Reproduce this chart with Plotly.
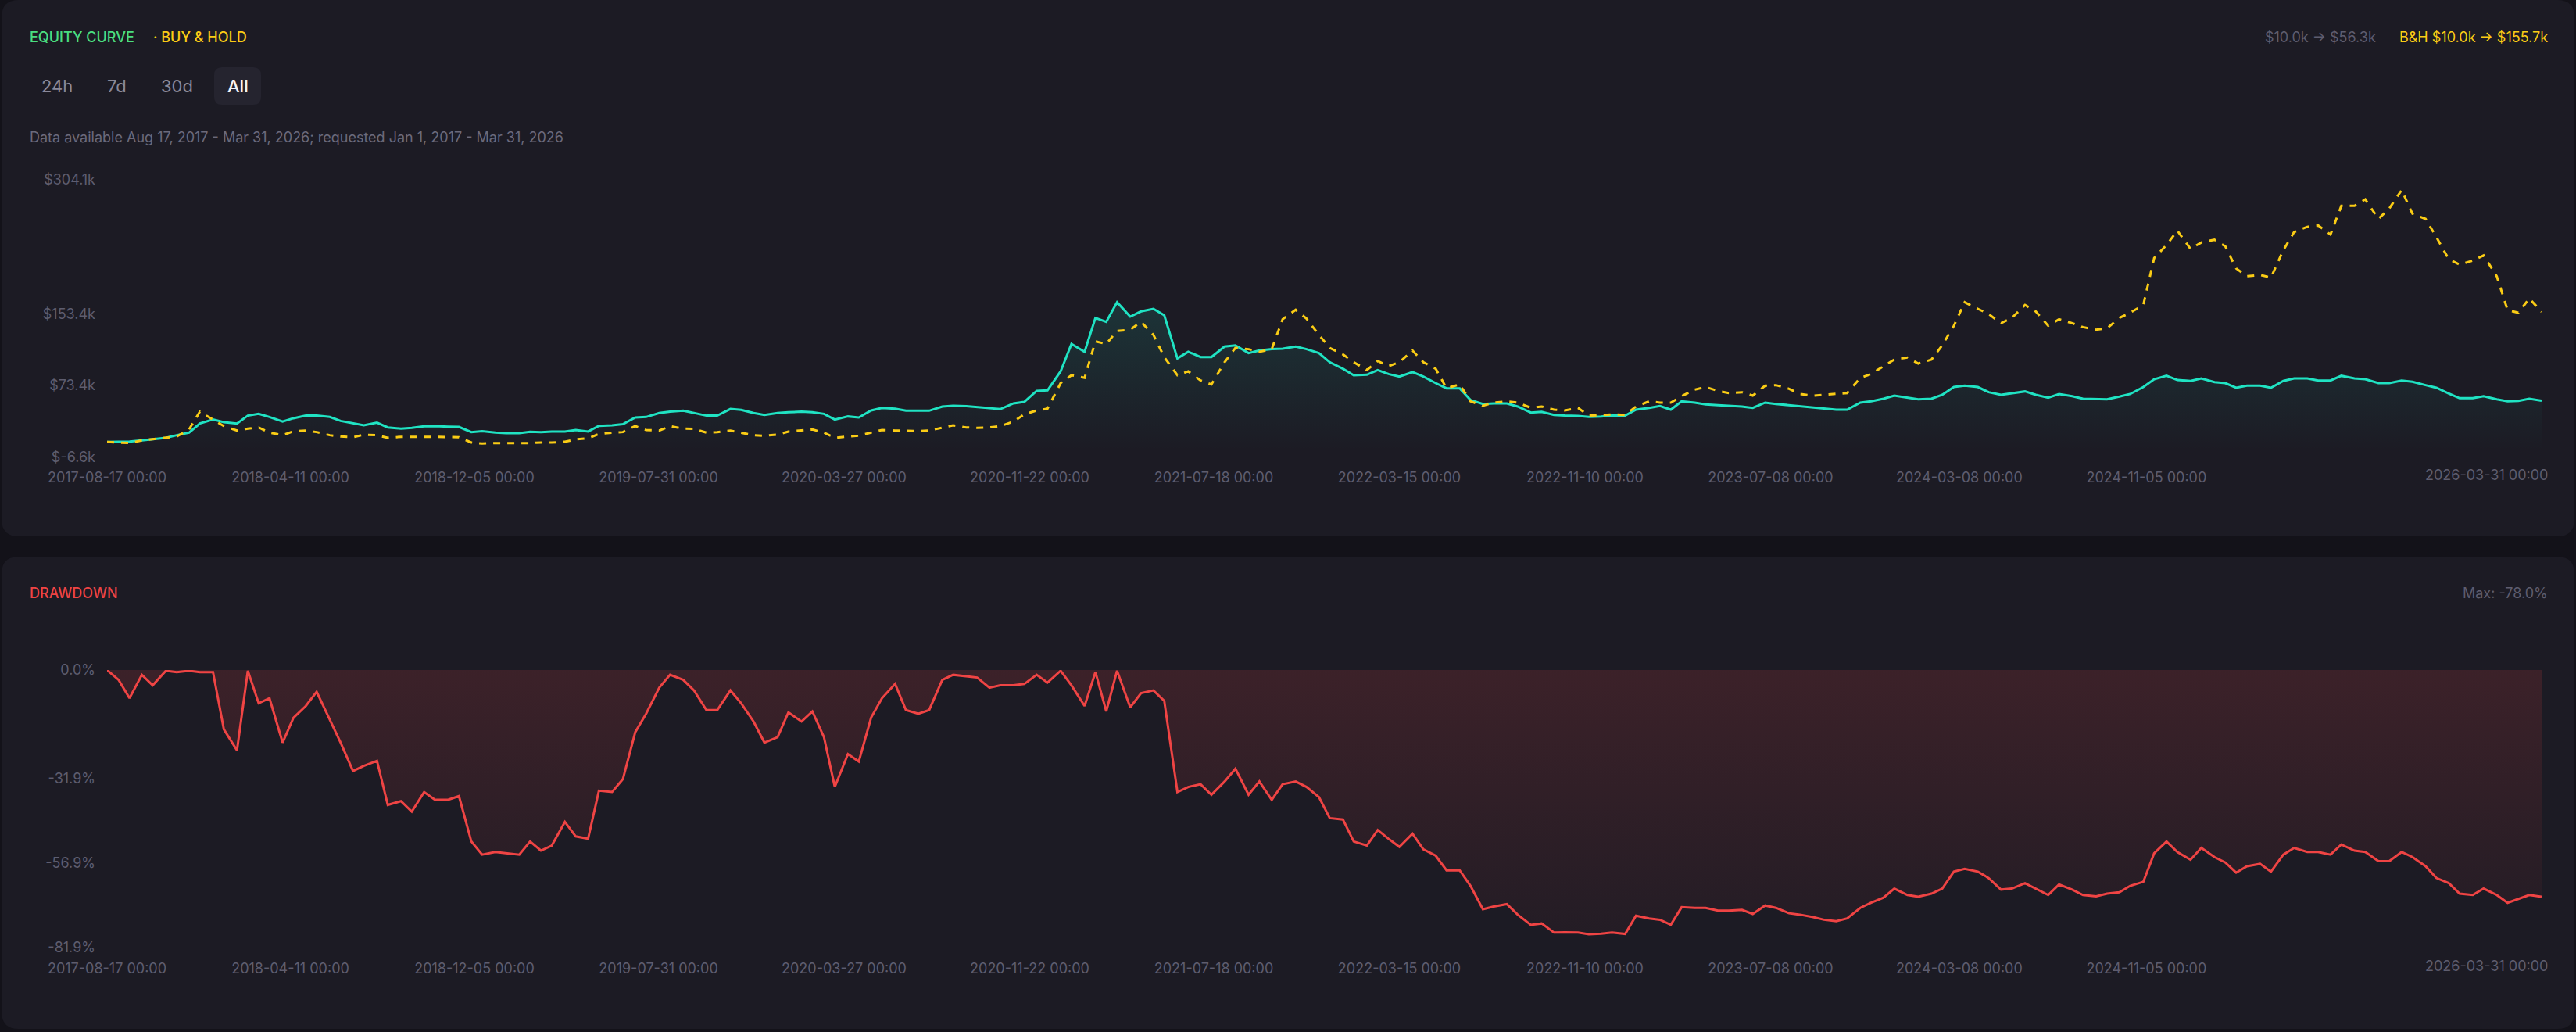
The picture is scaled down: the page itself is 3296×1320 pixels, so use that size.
import pandas as pd
import plotly.graph_objects as go

W, H = 3296, 1320

# samples on the 1st and 15th of every month, plus first / last day of data
dates = ([pd.Timestamp("2017-08-17")]
         + list(pd.date_range("2017-09-01", "2026-03-15", freq="SMS"))
         + [pd.Timestamp("2026-03-31")])

# strategy equity, $k
equity_2017 = [10.0, 10.3, 10.6, 11.8, 13.2, 14.7, 17.6, 20.5, 30.7]
equity_2018 = [35.1, 32.2, 30.7, 39.5, 41.5, 38.0, 32.8, 36.6, 39.5, 39.5, 38.0, 33.6,
               30.7, 28.7, 31.6, 26.3, 24.9, 25.8, 27.5, 27.8, 27.2, 26.9, 21.1, 22.0]
equity_2019 = [20.5, 19.9, 19.9, 21.4, 21.1, 21.7, 21.7, 23.4, 21.7, 28.1, 28.7, 29.9,
               37.4, 38.0, 42.4, 43.9, 45.0, 42.4, 39.5, 39.5, 47.0, 45.9, 42.4, 40.3]
equity_2020 = [42.4, 43.3, 43.9, 43.3, 41.5, 35.1, 38.6, 37.4, 45.3, 48.2, 47.3, 45.0,
               44.7, 45.0, 49.7, 50.6, 50.0, 48.8, 47.9, 46.8, 53.2, 54.9, 67.2, 67.8]
equity_2021 = [89.1, 119.7, 111.0, 148.9, 144.5, 166.4, 150.3, 156.2, 159.1, 151.8, 103.6, 111.0,
               105.1, 105.1, 116.8, 118.2, 109.5, 112.4, 113.9, 114.4, 116.8, 113.9, 109.5, 99.3]
equity_2022 = [92.0, 84.7, 85.3, 90.5, 86.1, 83.2, 88.2, 83.2, 75.9, 70.1, 70.1, 57.0,
               52.5, 53.2, 53.2, 49.7, 42.9, 43.8, 40.3, 39.5, 39.2, 38.0, 38.6, 39.5]
equity_2023 = [39.5, 46.2, 48.2, 50.3, 46.2, 55.5, 54.1, 52.0, 51.1, 50.5, 49.7, 48.2,
               54.1, 52.6, 51.1, 49.7, 48.2, 47.3, 46.2, 46.2, 54.1, 55.5, 58.4, 61.9]
equity_2024 = [59.9, 57.8, 58.4, 62.8, 71.5, 73.0, 71.5, 65.7, 62.8, 64.8, 66.6, 62.8,
               59.6, 63.7, 61.3, 58.4, 57.8, 57.8, 60.8, 63.7, 71.5, 80.3, 84.1, 79.4]
equity_2025 = [78.3, 81.2, 77.1, 75.9, 70.7, 73.0, 73.0, 70.7, 78.3, 81.2, 81.2, 78.8,
               78.8, 84.1, 81.2, 80.3, 75.9, 75.9, 78.8, 77.4, 73.6, 70.7, 64.3, 59.0]
equity_2026 = [59.0, 61.3, 57.8, 55.5, 56.1, 58.4, 56.3]

# buy & hold, $k
hold_2017 = [10.0, 9.4, 8.8, 11.8, 13.2, 15.3, 16.1, 24.0, 43.9]
hold_2018 = [35.1, 27.8, 22.8, 24.9, 26.3, 20.5, 17.6, 22.0, 22.8, 21.1, 17.6, 16.1,
             15.3, 18.2, 17.6, 14.7, 15.8, 15.5, 15.8, 15.8, 15.8, 15.3, 9.4, 8.3]
hold_2019 = [8.8, 8.8, 8.5, 8.8, 9.4, 9.4, 10.3, 12.9, 14.1, 19.0, 20.5, 21.1,
             27.8, 23.4, 22.8, 27.8, 24.9, 24.6, 20.5, 21.1, 22.8, 20.5, 17.6, 17.0]
hold_2020 = [18.2, 21.7, 22.8, 24.0, 20.5, 14.7, 16.1, 17.0, 20.5, 23.4, 22.8, 22.5,
             22.3, 22.8, 26.3, 28.7, 26.3, 25.8, 26.3, 27.8, 32.8, 40.9, 45.3, 47.3]
hold_2021 = [75.9, 84.7, 81.8, 122.6, 119.7, 134.3, 135.7, 144.5, 129.9, 105.1, 84.7, 89.1,
             78.9, 74.5, 99.3, 115.3, 113.9, 111.0, 113.9, 147.4, 158.0, 148.0, 129.9, 115.3]
hold_2022 = [108.0, 99.3, 90.5, 100.7, 94.9, 99.3, 112.4, 99.3, 92.0, 70.1, 74.5, 55.5,
             50.5, 54.1, 55.5, 54.1, 48.2, 49.7, 46.2, 45.3, 48.2, 39.5, 40.0, 40.9]
hold_2023 = [40.3, 49.7, 55.5, 54.1, 54.1, 61.3, 68.6, 71.5, 67.2, 64.8, 65.7, 61.9,
             73.0, 73.6, 69.5, 63.7, 61.9, 62.8, 64.3, 64.8, 81.7, 86.1, 94.9, 102.2]
hold_2024 = [104.5, 97.8, 102.2, 118.2, 140.1, 166.4, 159.1, 153.2, 143.0, 148.9, 163.4, 156.1,
             140.1, 147.4, 143.0, 138.6, 135.7, 137.2, 148.9, 154.7, 163.4, 215.9, 230.5, 246.6]
hold_2025 = [226.1, 233.4, 236.4, 229.1, 204.3, 195.5, 197.0, 194.1, 224.7, 245.1, 250.9, 252.4,
             242.2, 274.3, 274.3, 281.6, 259.7, 271.4, 292.0, 265.5, 259.7, 239.3, 214.5, 208.6]
hold_2026 = [213.0, 218.9, 195.5, 157.6, 154.7, 170.7, 155.7]

# drawdown of the strategy, %
dd_2017 = [0.0, -2.9, -8.3, -1.4, -4.5, -0.2, -0.6, -0.2, -0.6]
dd_2018 = [-0.6, -17.5, -23.7, -0.2, -9.8, -8.3, -21.4, -14.1, -10.6, -6.4, -14.5, -21.4,
           -29.8, -28.3, -26.8, -39.8, -38.7, -41.8, -36.0, -38.3, -38.3, -37.2, -50.6, -54.5]
dd_2019 = [-53.7, -54.1, -54.5, -50.6, -53.3, -51.8, -44.8, -49.1, -49.8, -35.6, -36.0, -32.2,
           -18.3, -12.9, -5.2, -1.4, -2.9, -6.0, -11.8, -11.8, -6.0, -9.8, -15.2, -21.4]
dd_2020 = [-19.8, -12.5, -15.2, -12.2, -19.8, -34.5, -24.8, -27.0, -14.0, -8.3, -4.1, -11.8,
           -12.9, -11.8, -2.9, -1.4, -1.8, -2.2, -5.2, -4.5, -4.5, -4.1, -1.4, -3.7]
dd_2021 = [-0.2, -4.5, -10.6, -0.6, -12.2, -0.2, -11.0, -6.8, -6.0, -9.1, -36.0, -34.5,
           -33.7, -36.8, -32.9, -29.1, -36.8, -32.9, -38.3, -33.7, -32.9, -34.5, -37.5, -43.7]
dd_2022 = [-44.1, -50.6, -51.8, -47.2, -49.8, -52.2, -48.3, -52.9, -54.8, -59.1, -59.1, -63.7,
           -70.6, -69.8, -69.1, -72.2, -75.2, -74.8, -77.5, -77.4, -77.5, -78.0, -77.8, -77.5]
dd_2023 = [-77.9, -72.5, -73.3, -73.7, -75.2, -70.0, -70.2, -70.2, -71.0, -71.0, -70.8, -72.0,
           -69.5, -70.2, -71.8, -72.2, -72.9, -73.7, -74.1, -73.3, -70.2, -68.7, -67.2, -64.5]
dd_2024 = [-66.4, -66.9, -66.0, -64.5, -59.5, -58.7, -59.5, -61.4, -64.8, -64.5, -62.9, -64.5,
           -66.4, -63.3, -64.8, -66.4, -66.8, -66.0, -65.6, -63.7, -62.5, -54.1, -50.6, -53.7]
dd_2025 = [-56.0, -52.5, -55.2, -56.8, -59.8, -57.9, -57.2, -59.5, -54.5, -52.5, -53.7, -53.7,
           -54.5, -51.5, -53.3, -53.7, -56.4, -56.4, -53.7, -55.2, -57.9, -61.4, -62.9, -66.0]
dd_2026 = [-66.4, -64.5, -66.4, -68.7, -67.5, -66.4, -66.9]

equity = (equity_2017 + equity_2018 + equity_2019 + equity_2020 + equity_2021
          + equity_2022 + equity_2023 + equity_2024 + equity_2025 + equity_2026)
hold = (hold_2017 + hold_2018 + hold_2019 + hold_2020 + hold_2021
        + hold_2022 + hold_2023 + hold_2024 + hold_2025 + hold_2026)
drawdown = (dd_2017 + dd_2018 + dd_2019 + dd_2020 + dd_2021
            + dd_2022 + dd_2023 + dd_2024 + dd_2025 + dd_2026)
assert len(equity) == len(hold) == len(drawdown) == len(dates)

tick_dates = ["2017-08-17", "2018-04-11", "2018-12-05", "2019-07-31", "2020-03-27",
              "2020-11-22", "2021-07-18", "2022-03-15", "2022-11-10", "2023-07-08",
              "2024-03-08", "2024-11-05"]
last_date = "2026-03-31"
equity_ticks = [-6.6, 73.4, 153.4, 304.1]
dd_ticks = [-81.9, -56.9, -31.9, 0.0]

CARD = "#1c1b24"
PAGE = "#131219"
MUTED = "#5e5d6f"
TEAL = "#20e3c3"
GOLD = "#facc15"
RED = "#ef4444"
FONT = "Inter"

# pixel rows of the two plot areas
EQ_TOP, EQ_BOT = 229.3, 584.3
DD_TOP, DD_BOT = 857, 1212


def fx(x):
    return x / W


def fy(y):
    return 1 - y / H


def rounded(x0, y0, x1, y1, r):
    rx, ry = r / W, r / H
    a, b = fx(x0), fx(x1)
    top, bot = fy(y0), fy(y1)
    return (f"M{a + rx},{top} L{b - rx},{top} Q{b},{top} {b},{top - ry} "
            f"L{b},{bot + ry} Q{b},{bot} {b - rx},{bot} L{a + rx},{bot} "
            f"Q{a},{bot} {a},{bot + ry} L{a},{top - ry} Q{a},{top} {a + rx},{top} Z")


fig = go.Figure()

fig.add_trace(go.Scatter(
    x=dates, y=equity, mode="lines", line=dict(color=TEAL, width=3),
    fill="tozeroy",
    fillgradient=dict(type="vertical", start=0, stop=170,
                      colorscale=[[0, "rgba(32,227,195,0)"], [1, "rgba(32,227,195,0.13)"]]),
    xaxis="x", yaxis="y", hoverinfo="skip"))
fig.add_trace(go.Scatter(
    x=dates, y=hold, mode="lines", line=dict(color=GOLD, width=3, dash="dash"),
    xaxis="x", yaxis="y", hoverinfo="skip"))
fig.add_trace(go.Scatter(
    x=dates, y=drawdown, mode="lines", line=dict(color=RED, width=3),
    fill="tozeroy",
    fillgradient=dict(type="vertical", start=-81.9, stop=0,
                      colorscale=[[0, "rgba(239,68,68,0.03)"], [1, "rgba(239,68,68,0.15)"]]),
    xaxis="x2", yaxis="y2", hoverinfo="skip"))

x_dom = [fx(137), fx(3252)]
xcommon = dict(type="date", range=[dates[0], dates[-1]], tickvals=tick_dates,
               ticktext=[d + " 00:00" for d in tick_dates],
               showgrid=False, zeroline=False, showline=False, ticks="",
               tickfont=dict(family=FONT, size=18, color=MUTED),
               ticklabelstandoff=14, automargin=False, fixedrange=True)
ycommon = dict(showgrid=False, zeroline=False, showline=False, ticks="",
               tickfont=dict(family=FONT, size=18, color=MUTED),
               ticklabelstandoff=14, automargin=False, fixedrange=True)

annotations = []


def label(x, y, text, color, size=18, anchor="left", weight=400):
    annotations.append(dict(x=fx(x), y=fy(y), xref="paper", yref="paper", text=text,
                            showarrow=False, xanchor=anchor, yanchor="middle",
                            font=dict(family=FONT, size=size, color=color, weight=weight)))


label(36, 47, "EQUITY CURVE", "#4ade80", weight=500)
label(194, 47, "· BUY &amp; HOLD", GOLD, weight=500)
label(3262, 47, "B&amp;H $10.0k → $155.7k", GOLD, anchor="right")
label(3042, 47, "$10.0k → $56.3k", MUTED, anchor="right")
label(73, 110, "24h", "#8a8999", 22, "center")
label(149, 110, "7d", "#8a8999", 22, "center")
label(226, 110, "30d", "#8a8999", 22, "center")
label(304, 110, "All", "#f4f4f6", 22, "center", 500)
label(36, 175, "Data available Aug 17, 2017 - Mar 31, 2026; requested Jan 1, 2017 - Mar 31, 2026",
      "#6b6a7c", 18)
label(36, 759, "DRAWDOWN", RED, weight=500)
label(3262, 759, "Max: -78.0%", MUTED, anchor="right")

# last date label is pulled inside the card, right aligned
for xr, ypx in (("x", EQ_BOT + 23), ("x2", DD_BOT + 23)):
    annotations.append(dict(x=last_date, y=fy(ypx), xref=xr, yref="paper",
                            text=last_date + " 00:00", showarrow=False,
                            xanchor="right", yanchor="middle", xshift=10,
                            font=dict(family=FONT, size=18, color=MUTED)))

shapes = [
    dict(type="path", path=rounded(2, 0, 3294, 686, 22), xref="paper", yref="paper",
         fillcolor=CARD, line=dict(width=0), layer="below"),
    dict(type="path", path=rounded(2, 712, 3294, 1316, 22), xref="paper", yref="paper",
         fillcolor=CARD, line=dict(width=0), layer="below"),
    dict(type="path", path=rounded(274, 86, 334, 134, 10), xref="paper", yref="paper",
         fillcolor="#25242f", line=dict(width=0), layer="below"),
]

fig.update_layout(
    width=W, height=H,
    margin=dict(l=0, r=0, t=0, b=0),
    paper_bgcolor=PAGE, plot_bgcolor="rgba(0,0,0,0)",
    showlegend=False, hovermode=False,
    font=dict(family=FONT),
    xaxis=dict(domain=x_dom, anchor="y", **xcommon),
    yaxis=dict(domain=[fy(EQ_BOT), fy(EQ_TOP)], anchor="x", range=[-6.62, 304.12],
               tickvals=equity_ticks, ticktext=[f"${v}k" for v in equity_ticks], **ycommon),
    xaxis2=dict(domain=x_dom, anchor="y2", **xcommon),
    yaxis2=dict(domain=[fy(DD_BOT), fy(DD_TOP)], anchor="x2", range=[-81.92, 0.02],
                tickvals=dd_ticks, ticktext=[f"{v:.1f}%" for v in dd_ticks], **ycommon),
    shapes=shapes,
    annotations=annotations,
)

fig.write_html("out.html", config={"displayModeBar": False},
               post_script="document.body.style.margin='0';document.body.style.overflow='hidden';")
